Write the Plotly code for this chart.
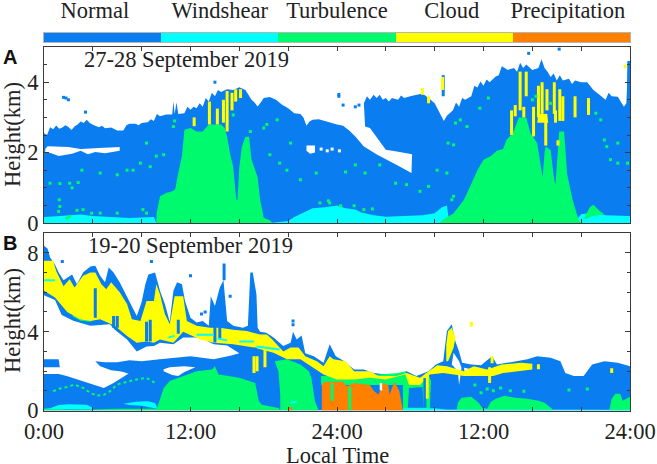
import plotly.graph_objects as go

# --- colours and labels ---
legend_labels = ["Normal", "Windshear", "Turbulence", "Cloud", "Precipitation"]
legend_codes = [0, 1, 2, 3, 4]
legend_label_pos = [-0.065, 1.0, 2.0, 2.98, 3.97]
BLUE = "#0A7DF0"
CYAN = "#00FFFF"
GREEN = "#00FA6E"
YELLOW = "#FFFF00"
ORANGE = "#FF7F00"
colors = [BLUE, CYAN, GREEN, YELLOW, ORANGE]

tick_hours = [0, 12, 24, 36, 48]
tick_hour_labels = ["0:00", "12:00", "24:00", "12:00", "24:00"]

# --- panel A, regions as (hour, km) ---
a_blue = [(0,0),(0,2.55),(0.25,2.5),(0.5,2.72),(0.75,2.66),(1,2.77),(1.25,2.68),(1.5,2.71),(1.75,2.78),(2,2.73),(2.25,2.64),(2.5,2.74),(2.75,2.8),(3,2.88),
          (3.25,2.84),(3.5,2.93),(3.75,2.84),(4,2.79),(4.5,2.72),(4.75,2.76),(5,2.69),(5.5,2.71),(6,2.63),(6.5,2.63),(6.75,2.78),(7,2.82),(7.5,2.82),(7.75,2.78),(8,2.84),
          (8.5,2.86),(8.75,2.95),(9,2.9),(9.25,3.1),(9.5,3.03),(10,3.08),(10.5,3.08),(10.6,3.45),(10.7,3.1),(10.85,3.42),(11,3.1),(11.5,3.12),(11.75,3.3),(12,3.22),
          (12.25,3.3),(12.5,3.26),(12.75,3.4),(13,3.3),(13.25,3.55),(13.5,3.45),(13.75,3.7),(14,3.6),(14.25,3.78),(14.5,3.72),(15,3.8),(15.5,3.78),(16,3.86),(16.5,3.78),
          (17,3.5),(17.25,3.42),(17.5,3.31),(17.75,3.42),(18,3.55),(18.5,3.58),(19,3.5),(19.5,3.36),(20,3.26),(20.5,3.12),(21,3.1),
          (21.25,3.0),(21.5,2.76),(21.75,2.88),(22,2.93),(22.5,2.95),(23,2.91),(23.5,2.85),(24,2.8),(24.5,2.76),(25,2.63),(25.5,2.46),
          (26.2,2.17),(27.3,1.94),(28.9,1.65),(30.1,1.42),(30.15,1.95),(29.5,2.0),(28.9,2.03),(28,2.08),
          (27.4,2.35),(26.7,2.7),(26.3,2.74),(26.2,3.4),(26.45,3.6),(26.7,3.5),(27,3.64),(27.25,3.55),(27.5,3.64),(27.75,3.5),(28,3.55),(28.25,3.45),(28.5,3.55),
          (29,3.5),(29.25,3.62),(29.5,3.55),(30,3.6),(30.5,3.64),(31,3.68),(31.5,3.55),(32,3.4),(32.5,3.07),(32.75,2.9),
          (33,3.05),(33.5,3.2),(33.75,3.42),(34,3.3),(34.25,3.55),(34.5,3.5),(35,3.6),(35.25,3.9),(35.5,3.85),(35.75,4.02),(36,3.9),(36.25,4.08),(36.5,4.0),(37,4.16),
          (37.25,4.2),(37.5,4.45),(38,4.35),(38.5,4.4),(38.75,4.3),(39,4.55),(39.25,4.4),(39.5,4.5),(40,4.35),(40.5,4.4),(40.75,4.65),(41,4.4),
          (41.25,4.3),(41.5,4.15),(41.75,4.25),(42,4.05),(42.25,4.2),(42.5,4.05),(43,4.1),(43.25,3.95),(43.5,4.05),(44,4.0),(44.5,4.0),(45,3.78),(45.5,3.64),
          (46,3.5),(46.25,3.7),(46.5,3.6),(47,3.59),(47.5,3.3),(47.7,3.4),(47.85,4.6),(48,4.6),(48,0)]
a_white_gap = [(0.1,2.1),(0.3,2.18),(2,2.16),(3,2.1),(4.5,2.13),(6.2,2.16),(6.2,2.05),(5,1.98),(4.2,2.02),
               (3.6,1.95),(3,2.05),(2.3,1.97),(1.2,1.9),(0.6,1.98),(0.1,2.02)]
a_white_gap2 = [(21.5,2.2),(22.2,2.2),(22.2,2.0),(21.8,1.97),(21.5,2.05)]
a_cyan_1 = [(0,0),(0,0.17),(1,0.19),(2,0.22),(3,0.24),(4,0.2),(5,0.18),(7,0.14),(9,0.17),(9.2,0)]
a_cyan_2 = [(18.5,0),(20,0.06),(20.5,0.17),(21,0.25),(22,0.42),(23,0.45),(24,0.5),(24.7,0.42),(25.5,0.38),
            (26,0.3),(27,0.22),(28,0.18),(29,0.2),(30,0.2),(31,0.22),(32,0.28),(32.6,0.45),(33,0.5),(33.2,0)]
a_cyan_3 = [(43,0),(43.5,0.05),(44,0.25),(45,0.3),(46,0.22),(47,0.2),(48,0.2),(48,0)]
a_green_1 = [(9.2,0),(9.23,0.28),(9.5,0.76),(10,0.85),(10.5,0.9),(10.74,0.95),(11,1.42),(11.3,1.9),(11.5,2.65),
             (12,2.7),(12.5,2.6),(13,2.6),(13.5,2.8),(14,2.8),(14.5,2.8),(14.8,2.7),(15,2.45),(15.25,1.95),
             (15.5,1.6),(15.75,0.67),(15.85,0.65),(16,1.6),(16.2,2.15),(16.5,2.45),(16.8,2.45),(17,1.8),
             (17.5,1.3),(17.7,0.67),(18,0.15),(18.5,0.08),(18.7,0)]
a_green_2 = [(32.46,0),(32.5,0.05),(33.55,0.28),(34.4,0.66),(34.9,1.04),(35.5,1.5),(36,1.8),(36.6,1.9),(37.1,2.05),
             (37.6,2.1),(37.9,2.37),(38.4,2.55),(38.9,3),(39.5,3),(39.85,2.55),(40.4,2.27),(40.7,1.6),(40.85,1.3),
             (41,2),(41.1,2.17),(41.5,2.07),(41.8,1.2),(41.9,1.1),(42.1,2.3),(42.2,2.6),(42.6,2.6),(42.85,1.4),
             (43.3,0.65),(43.8,0.08),(44,0)]
a_green_3 = [(44.2,0.1),(44.7,0.45),(45,0.52),(45.5,0.35),(45.9,0.25),(45,0.2)]
a_cloud_blob = [(40.4,2.85),(40.5,3.1),(41.2,3.1),(41.3,2.85)]

# yellow / blue vertical streaks (hour, km low, km high)
a_yellow_streaks = [(12.3,2.75,3),(13.55,2.8,3.45),(14.2,2.8,3.25),(15,2.6,3.75),(14.7,2.85,3.5),(15.4,3.2,3.7),
                    (15.7,3.45,3.8),(16.1,3.55,3.8),(31,3.64,3.83),(31.5,3.4,3.6),(32.65,3.78,4.15),(38.3,2.5,3.2),
                    (38.6,3.03,3.35),(39,3.2,4.3),(39.3,3,3.3),(39.5,3.6,4.3),(40.1,2.46,3.3),(40.5,3,3.9),
                    (40.8,3.1,4),(41.1,2.2,3.1),(41.2,3.2,3.8),(41.8,3.1,4),(41.9,2.85,3.2),(42.25,2.9,3.8),
                    (42.5,2.9,3.6),(42.1,2.2,2.35),(43.5,3,3.6),(44.6,3.07,3.55),(47.6,4.4,4.5)]
a_blue_streaks = [(32.7,3.6,4.2),(47.9,3.4,4.6)]
a_blue_specks = [(1.6,3.57),(1.8,3.55),(2,3.5),(3.4,3.15),(24.15,3.65),(24.15,3.6),(24.5,3.35),(25.5,3.3),(25.8,3.35),
                 (39.7,4.82),(42.2,4.94),(14,4.0)]
a_white_specks = [(22.7,2.1),(23.2,2.05),(23.6,2.1),(24.2,2.05)]
a_green_specks = [(1.3,0.47),(1.25,0.66),(1.2,0.33),(2.1,0.19),(0.5,1.13),(1.3,1.12),(2.1,1.13),(2.8,1.15),(2.3,1),
                  (6,1.37),(6.8,1.5),(7.9,1.7),(9.2,1.9),(8.4,2.27),(10.6,2.74),(10.7,2.9),(18.5,1.94),(19.3,1.7),
                  (20.2,2.27),(19.9,1.5),(21,1.23),(22.3,1.42),(15.5,3.07),(16.9,2.6),(18,2.7),(18.25,2.8),(19.1,2.93),
                  (7.3,1.5),(8.7,1.6),(9.8,1.94),(4.6,1.42),(3.1,1.5),(24.7,1.45),(25.5,1.65),(26.3,1.42),(27.5,1.65),
                  (28.8,1.13),(29.7,1.09),(30.8,0.9),(31.5,1.04),(32.2,1.5),(33,1.42),(33.7,2.84),(34.1,2.93),
                  (34.65,2.74),(33.1,2.27),(33.55,2.22),(35.7,3.26),(36.4,3.55),(45.6,2.93),(45.2,3.12),(45.9,2.36),
                  (47,2.27),(46.4,1.8),(47,1.7),(47.8,1.7),(46.1,2.17),(2.7,0.36),(3.2,0.38),(3.9,0.28),(4.6,0.28),
                  (6,0.28),(8.1,0.38),(8.4,0.28),(1.9,0.14),(23.4,0.57),(24.3,0.49),(25.4,0.49),(26.2,0.38),
                  (26.9,0.4),(33.4,0.66),(33.55,0.76),(23.3,0.63),(22.6,0.57),(40.3,3.6),(40,3.5),(41.5,3.4)]

# --- panel B ---
b_blue = [(0,0),(0,8.36),(0.3,8.2),(0.5,7.76),(0.9,7.4),(1.2,7),(1.6,6.6),(2,6.75),(2.3,6.9),(2.7,6.4),(3.2,7),
          (3.8,7.3),(4.2,7.34),(4.6,6.83),(5,6.5),(5.3,7.25),(5.7,7),(6.2,6.5),(6.6,6),(7,5.5),(7.6,4.8),(8,5.5),
          (8.3,6.4),(8.55,6.9),(9.1,7),(9.5,6.07),(9.9,5.4),(10.3,4.5),(10.6,6.07),(10.9,6.5),(11.3,6.4),(11.55,5.56),
          (12,4.7),(12.5,4.46),(13,4.54),(13.5,4.3),(13.66,5.8),(14,5.3),(14.4,6.24),(14.7,6.6),(15,4.54),(15.5,4.3),
          (16.3,4.2),(16.7,4.3),(16.9,7),(17.1,7),(17.4,5.9),(17.5,4.2),(17.7,4),(18.2,3.95),(18.8,3.7),(19.6,3.27),
          (20.2,3.44),(20.4,4),(20.7,3.6),(21.1,3.8),(21.4,2.9),(22.1,2.76),(22.9,2.42),(23.4,3.36),(23.9,2.76),
          (24.5,2.54),(25.4,2.08),(26.2,2.08),(27,1.9),(28,1.83),(28.9,1.83),(29.7,2),(30.5,1.75),(31.5,2),(32.1,2.34),
          (32.7,2.5),(33,4.03),(33.4,4.37),(33.7,3.5),(34,3),(34.25,2.42),(35,2.34),(35.8,2.3),(36.7,2.76),(37.1,2.34),
          (37.9,2.42),(39.6,2.6),(40.4,2.76),(41.5,2.68),(42.3,2.5),(42.7,1.9),(43.4,1.75),(44.2,1.75),(44.9,2.34),
          (45.9,2.5),(47,2.42),(48,2.25),(48,0)]
b_white_gap = [(0,5.85),(0.9,5.6),(1.45,4.85),(2.4,4.55),(3.8,4.3),(5.4,4.37),(5.8,4.1),(6.8,3.6),(7.6,3),(8.4,3.25),
               (9,3.27),(9.5,3.44),(10.6,3.36),(11.4,3.7),(12.8,3.7),(13.9,3.36),(15,3.3),(16,2.9),(15.25,2.78),
               (13.9,2.6),(12,2.75),(10.6,2.68),(9.5,2.6),(8.8,2.25),(7.7,2.2),(6.8,1.83),(5.7,1.4),(4.9,1.15),
               (3.2,1.5),(1.86,1.75),(1.2,1.85),(0,1.85)]
b_blue_patch_1 = [(0,2.6),(1.2,2.6),(1.3,2.2),(0,2.2)]
b_blue_patch_2 = [(4.2,2.5),(5,2.45),(6,2.45),(7,2.55),(8,2.5),(9.5,2.6),(9.5,2),(8,1.9),(7,1.85),(6.5,1.95),
                  (6.2,2),(5.5,2.05),(4.6,2.25)]
b_white_patch = [(9.8,2.1),(10.3,2.2),(11.5,2.25),(12.4,2.2),(11.5,1.95),(11,1.75),(10.5,1.8),(9.8,2)]
b_white_hole_1 = [(33.55,2.93),(34,2.5),(34.2,2.17),(34.1,1.75),(34,1.3),(33.9,2),(33.4,2.34)]
b_white_hole_2 = [(34.4,2.17),(35,2.1),(34.9,1.75),(34.5,1.8)]
b_white_hole_3 = [(27.5,1.4),(27.7,1.4),(27.7,1),(27.5,1.05)]
b_green_1 = [(9.2,0),(9.5,0.64),(9.8,1.15),(10.3,1.5),(11.7,1.83),(12.5,2),(13.75,2.08),(14,2.25),(14.3,1.83),(16,1.66),
             (17.3,1.4),(17.6,0.47),(17.85,0.3),(19.2,0.13),(19.35,0)]
b_green_2 = [(19.35,0),(19.35,0.8),(19.2,2),(18.9,2.5),(19.9,2.6),(21,2.34),(21.7,2),(21.9,1.66),(22.2,0.47),(22.5,0)]
b_green_band = [(4.3,4.7),(3.8,4.5),(3,4.55),(2.3,4.8),(2.6,4.9),(3.3,4.75),(3.9,4.7)]
b_green_mid = [(22.7,1.3),(22.7,1.75),(25,1.8),(27,1.8),(29,1.9),(29.6,2),(30,1.5),(30.8,1.5),(31.5,1.8),(31.7,1.5),
               (31.6,0),(29.4,0),(29.4,1.3)]
b_blue_mid = [(29.8,0.15),(29.9,1.15),(31,1.2),(31.1,0.15)]
b_green_3 = [(33.8,0),(33.9,0.4),(34.2,0.65),(35,0.7),(35.6,0.4),(35.9,0.15),(36.3,0.1),(36.6,0.45),(37,0.6),(37.7,0.75),
             (38.6,0.65),(39.6,0.6),(40.5,0.5),(41,0.4),(41.6,0.1),(41.7,0)]
b_green_4 = [(46.3,0),(46.5,0.6),(46.8,0.85),(47.2,0.85),(47.4,0.5),(48,0.7),(48,0)]
b_yellow = [(0,7.6),(0.75,7.6),(1,7.08),(1.6,6.3),(2.1,6.66),(2.5,6.24),(3.2,6.83),(3.8,7),(4.2,7),(4.7,6.4),(5.1,6.15),
            (5.5,6.5),(6.2,6),(6.8,5.4),(7.2,4.63),(7.9,4.54),(8.4,5.56),(9,5.56),(9.2,6.4),(9.5,5.9),(9.9,4.9),
            (10.3,4.37),(10.7,5.8),(11.4,5.8),(11.7,4.54),(12.5,4.3),(13.6,4.2),(14.4,4.2),(15.5,4.1),(16.6,4.03),
            (17.7,3.86),(18.25,3.86),(18.7,3.6),(19.6,3),(20.2,3.2),(20.85,3.2),(21.4,2.76),(22.35,2.5),(22.9,2.25),
            (23.4,2.76),(23.7,2.6),(24.7,2.5),(25.4,2),(26.7,2),(27.4,1.75),(28.9,1.75),(29.7,1.9),(30.8,1.66),
            (32.2,2.3),(33,2.25),(34.4,2),(35.2,2.25),(36.3,2.08),(36.7,2.17),(37.5,2.34),(39.1,2.42),(40,2.37),
            (40,2.08),(37.6,1.9),(36.8,1.75),(36.3,1.75),(35,1.75),(34.4,1.75),(32.7,1.9),(31.6,1.83),(30.8,1.3),
            (29.9,1.3),(29.6,1.83),(28,1.58),(26.7,1.66),(25.4,1.58),(24,1.58),(22.9,1.83),(21,2.6),(19.9,2.6),
            (18.8,2.93),(17.2,3.2),(15.5,3.36),(13.9,3.44),(12.8,3.6),(11.4,4),(10.6,3.44),(9.5,3.6),(9,3.44),
            (8.4,3.5),(7.6,3.44),(6.8,3.78),(5.8,4.3),(4.6,4.63),(3.8,4.54),(2.95,4.63),(1.9,5),(0.9,5.73),(0,6.07)]
b_yellow_tower = [(32.95,3.36),(33.1,4.03),(33.4,4.2),(33.7,3.7),(33.55,3.19),(33.1,2.5),(32.95,2.5)]
b_cyan_1 = [(0,0.1),(0.5,0.12),(1.2,0.28),(2,0.32),(3.5,0.3),(4,0.15),(4,0.05),(1.2,0.08),(0,0.08)]
b_cyan_2 = [(6.5,0.35),(7.5,0.45),(8.5,0.48),(9.1,0.38),(9.3,0.1),(8,0.25),(7,0.28)]
b_cyan_3 = [(29.4,0),(29.4,0.12),(32,0.12),(33,0.06),(48,0.04),(48,0)]
b_green_floor = [(0,0),(0,0.08),(1.2,0.08),(2,0.05),(4,0.05),(6,0.1),(9.3,0.1),(9.3,0)]
b_orange = [(22.76,0),(22.76,1.3),(23,1.46),(24.5,1.46),(24.8,1.24),(25.4,1.4),(26.7,1.3),(27,1),(27.4,0.8),(27.7,1.4),
            (28.2,1.3),(28.3,0.8),(28.7,1.46),(29.1,1),(29.4,0)]
b_blue_streaks = [(4.2,4.7,6.2),(5.7,4.2,4.8),(6,4.2,4.8),(8.4,3.5,4.5),(8.7,3.5,4.6),(11,3.9,4.6),(14,3.45,4.45),
                  (14.4,3.6,4.4),(14.75,6.6,7.45),(17.3,1.8,3.2),(31.2,0.15,1.65)]
b_yellow_streaks = [(17.2,1.9,2.76),(17.45,2,2.76),(18.1,2.2,3.27),(31.4,0.6,1.9),(36.5,1.4,2.2),(36.7,2.4,2.75),
                    (40.5,2.1,2.35),(46.5,1.9,2.15),(35,4.25,4.5)]
b_green_streaks = [(25.05,0,1.2),(23.6,0.5,1.4)]
b_cyan_dashes = [[(0,6.6),(0.9,6.6)],[(10.2,3.7),(10.7,3.8)],[(12.5,3.85),(13.9,3.85)],[(14.2,3.65),(15,3.55)],
                 [(16,3.5),(17.2,3.5)],[(17.4,3.25),(19.3,3.1)],[(20.2,0.4),(20.7,0.45)]]
b_green_wisp = [(0.75,0.98),(1.3,1.12),(1.9,1.2),(2.5,1.32),(3.2,1.15),(3.8,0.9),(4.3,0.76),(4.9,0.8),(5.4,0.98),
                (6,1.32),(6.8,1.46),(7.6,1.58),(8.4,1.66),(9.1,1.4)]
b_blue_specks = [(12,6.83),(8.8,7.56),(1.5,7.56),(20.4,4.54),(20.4,4.35),(15.25,5.8),(13.2,5),(12.9,4.9)]
b_green_specks = [(36.3,1.1),(36.8,1),(37.4,1.15),(38.2,1),(39.3,0.98),(43,1.05),(44.5,1.1),(35.3,1.3),(35.8,0.9)]
b_orange_specks = [(20.2,0.1)]

fig = go.Figure()


def area(points, color, ax):
    fig.add_trace(go.Scatter(x=[p[0] for p in points], y=[p[1] for p in points], mode="lines", fill="toself",
                             fillcolor=color, line=dict(width=0, color=color), xaxis="x" + ax, yaxis="y" + ax,
                             hoverinfo="skip", showlegend=False))


def streaks(rows, color, ax, width=3):
    xs, ys = [], []
    for h, lo, hi in rows:
        xs += [h, h, None]
        ys += [lo, hi, None]
    fig.add_trace(go.Scatter(x=xs, y=ys, mode="lines", line=dict(color=color, width=width), xaxis="x" + ax,
                             yaxis="y" + ax, hoverinfo="skip", showlegend=False))


def specks(points, color, ax, size=3):
    fig.add_trace(go.Scatter(x=[p[0] for p in points], y=[p[1] for p in points], mode="markers",
                             marker=dict(color=color, size=size, symbol="square", line=dict(width=0)),
                             xaxis="x" + ax, yaxis="y" + ax, hoverinfo="skip", showlegend=False))


# --- panel A ---
area(a_blue, BLUE, "")
area(a_white_gap, "white", "")
area(a_white_gap2, "white", "")
for r in [a_cyan_1, a_cyan_2, a_cyan_3]:
    area(r, CYAN, "")
for r in [a_green_1, a_green_2, a_green_3]:
    area(r, GREEN, "")
streaks(a_blue_streaks, BLUE, "")
streaks(a_yellow_streaks, YELLOW, "")
area(a_cloud_blob, YELLOW, "")
specks(a_blue_specks, BLUE, "")
specks(a_white_specks, "white", "")
specks(a_green_specks, GREEN, "")

# --- panel B ---
area(b_blue, BLUE, "2")
area(b_white_gap, "white", "2")
area(b_blue_patch_1, BLUE, "2")
area(b_blue_patch_2, BLUE, "2")
for r in [b_white_patch, b_white_hole_1, b_white_hole_2]:
    area(r, "white", "2")
for r in [b_green_1, b_green_2, b_green_mid, b_green_3, b_green_4, b_green_band, b_green_floor]:
    area(r, GREEN, "2")
area(b_blue_mid, BLUE, "2")
area(b_yellow, YELLOW, "2")
area(b_yellow_tower, YELLOW, "2")
for r in [b_cyan_1, b_cyan_2, b_cyan_3]:
    area(r, CYAN, "2")
streaks(b_blue_streaks, BLUE, "2")
streaks(b_yellow_streaks, YELLOW, "2")
area(b_orange, ORANGE, "2")
area(b_white_hole_3, "white", "2")
streaks(b_green_streaks, GREEN, "2")
for dash in b_cyan_dashes:
    fig.add_trace(go.Scatter(x=[p[0] for p in dash], y=[p[1] for p in dash], mode="lines",
                             line=dict(color=CYAN, width=2), xaxis="x2", yaxis="y2", hoverinfo="skip", showlegend=False))
fig.add_trace(go.Scatter(x=[p[0] for p in b_green_wisp], y=[p[1] for p in b_green_wisp], mode="lines",
                         line=dict(color=GREEN, width=2, dash="dot"), xaxis="x2", yaxis="y2", hoverinfo="skip",
                         showlegend=False))
specks(b_blue_specks, BLUE, "2")
specks(b_green_specks, GREEN, "2")
specks(b_orange_specks, ORANGE, "2")

# --- colour strip on top ---
fig.add_trace(go.Heatmap(z=[legend_codes], x=legend_codes, y=[0], xaxis="x3", yaxis="y3", showscale=False, zmin=0, zmax=4,
                         colorscale=[[i / 4, c] for i, c in enumerate(colors)], hoverinfo="skip"))

AXIS = "#3a3a3a"
FONT = "Liberation Serif"
W, H = 657, 464
x_dom = [44 / W, 630 / W]


def x_axis(labels, anchor):
    ax = dict(domain=x_dom, range=[0, 48], anchor=anchor, automargin=False, tickmode="array", tickvals=tick_hours,
              ticktext=tick_hour_labels if labels else [""] * 5, showticklabels=labels, ticks="inside", ticklen=4,
              tickcolor=AXIS, showgrid=False, zeroline=False, showline=True, linecolor=AXIS, linewidth=1, mirror="ticks",
              tickfont=dict(size=22.5, color="#222"), minor=dict(dtick=4, ticks="inside", ticklen=4, tickcolor=AXIS))
    return ax


def y_axis(top, bottom, rng, vals, minor, anchor):
    return dict(domain=[1 - bottom / H, 1 - top / H], range=rng, anchor=anchor, automargin=False, tickmode="array", tickvals=vals,
                ticks="inside", ticklen=5, tickcolor=AXIS, showgrid=False, zeroline=False, showline=True,
                linecolor=AXIS, linewidth=1, mirror="ticks", tickfont=dict(size=22.5, color="#222"),
                minor=dict(dtick=minor, ticks="inside", ticklen=3, tickcolor=AXIS))


def paper_text(text, px, py, size=22.5, angle=0, family=FONT, color="#222"):
    return dict(text=text, xref="paper", yref="paper", x=px / W, y=1 - py / H, textangle=angle, showarrow=False,
                xanchor="center", yanchor="middle", font=dict(size=size, family=family, color=color))


xa = x_axis(False, "y")
xb = x_axis(True, "y2")

fig.update_layout(
    width=W, height=H, margin=dict(l=0, r=0, t=0, b=0), paper_bgcolor="white", plot_bgcolor="white",
    font=dict(family=FONT, color="#222"), showlegend=False,
    xaxis=xa, xaxis2=xb,
    yaxis=y_axis(47, 223, [0, 5], [0, 2, 4], 0.5, "x"),
    yaxis2=y_axis(233, 410.6, [0, 9], [0, 4, 8], 1, "x2"),
    xaxis3=dict(domain=x_dom, range=[-0.5, 4.5], anchor="y3", automargin=False, side="top", tickmode="array", tickvals=legend_label_pos,
                ticktext=legend_labels, ticks="", showgrid=False, zeroline=False, showline=True, linecolor="#b5b5b5",
                mirror=True, tickfont=dict(size=22.5, color="#222"), ticklabelstandoff=5),
    yaxis3=dict(domain=[1 - 42 / H, 1 - 33 / H], range=[-0.5, 0.5], anchor="x3", automargin=False, showticklabels=False, ticks="",
                showgrid=False, zeroline=False, showline=True, linecolor="#b5b5b5", mirror=True),
    annotations=[
        dict(text="27-28 September 2019", xref="x", yref="y", x=11.7, y=4.65, showarrow=False, font=dict(size=22.5, color="#222")),
        dict(text="19-20 September 2019", xref="x2", yref="y2", x=12, y=8.35, showarrow=False, font=dict(size=22.5, color="#222")),
        paper_text("Height(km)", 12, 135, angle=-90),
        paper_text("Height(km)", 12, 321, angle=-90),
        paper_text("Local Time", 337, 455),
        paper_text("<b>A</b>", 10, 57, size=20, family="Liberation Sans", color="#111"),
        paper_text("<b>B</b>", 10, 243, size=20, family="Liberation Sans", color="#111"),
    ],
)

# page body has a default margin, drop it so the figure fills the window
fig.write_html("out.html", config={"displayModeBar": False}, post_script="document.body.style.margin='0';")
